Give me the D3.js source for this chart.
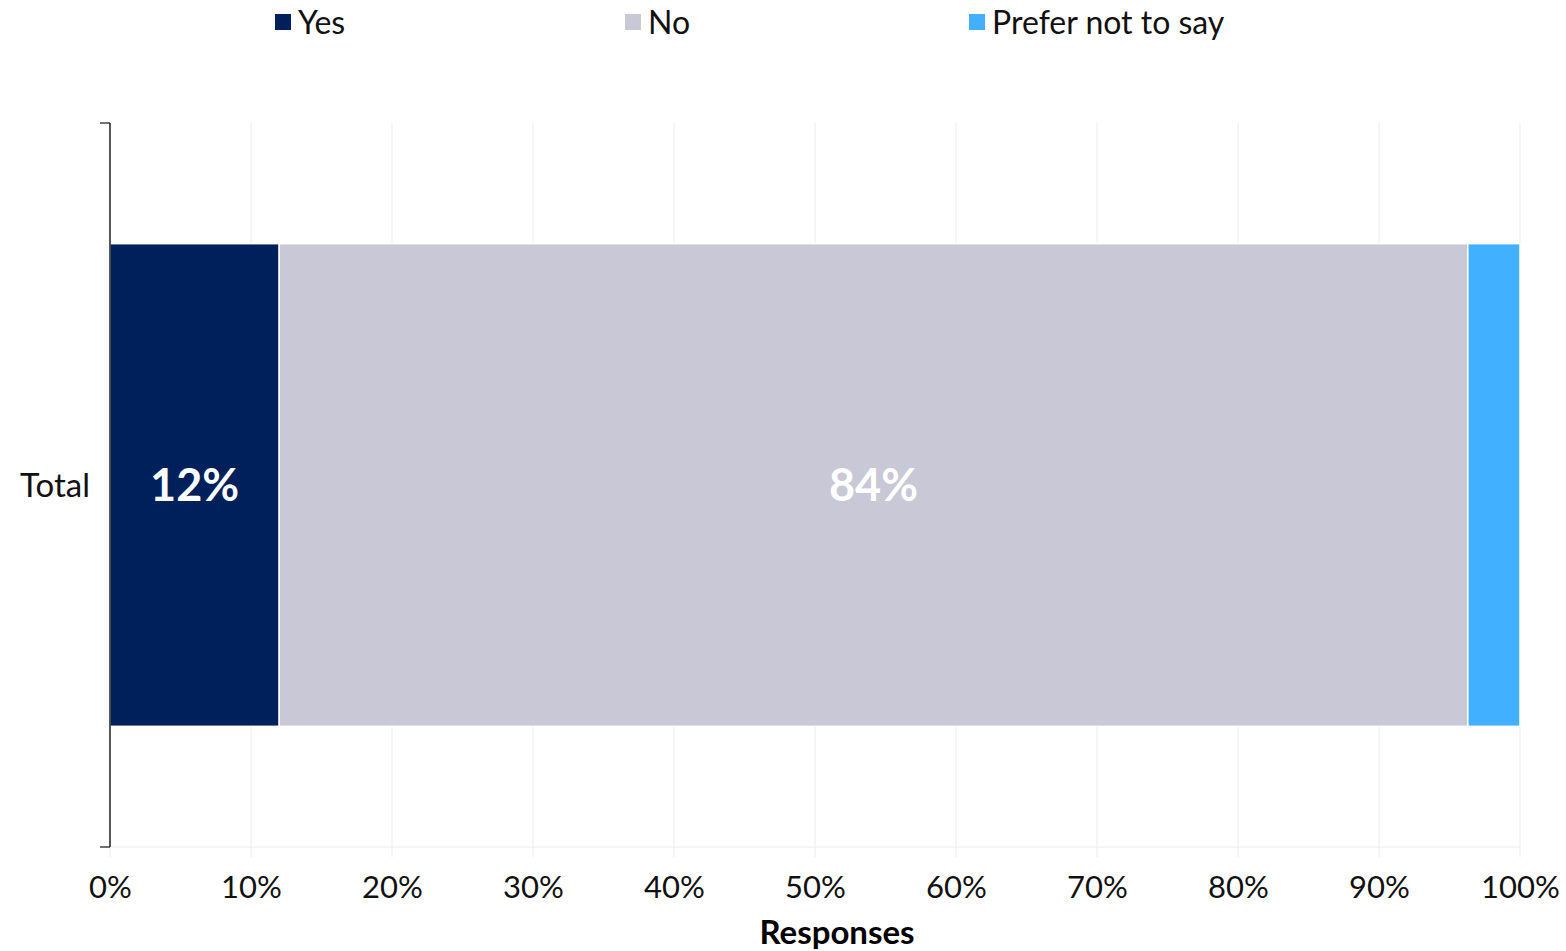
<!DOCTYPE html>
<html><head><meta charset="utf-8">
<script src="https://cdn.jsdelivr.net/npm/d3@7"></script>
<style>body{margin:0;background:#fff}svg{display:block}text{font-family:Lato,"Noto Sans",sans-serif}</style>
</head><body>
<svg id="c" width="1566" height="951"></svg>
<script>
const categories = ["Total"];
const seriesNames = ["Yes", "No", "Prefer not to say"];
const seriesColors = ["#00205B", "#C8C8D6", "#41B0FF"];
const yesValues = [12.0];
const noValues = [84.3];
const preferValues = [3.7];
const barLabels = [["12%"], ["84%"], [""]];
const xTicks = [0,10,20,30,40,50,60,70,80,90,100];

const svg = d3.select("#c");
const m = {l:110, r:1520, t:123, b:847};
const x = d3.scaleLinear().domain([0,100]).range([m.l, m.r]);
const y = d3.scaleBand().domain(categories).range([m.t, m.b]).paddingInner(0).paddingOuter(0.25);

// grid
svg.append("g").selectAll("line").data(xTicks).join("line")
  .attr("x1", d=>x(d)).attr("x2", d=>x(d)).attr("y1", m.t).attr("y2", m.b+10)
  .attr("stroke", "#ececec").attr("stroke-width", 1);
svg.append("line").attr("x1", m.l).attr("x2", m.r).attr("y1", m.b).attr("y2", m.b)
  .attr("stroke", "#ececec");

// x axis labels
const xa = svg.append("g").attr("transform", `translate(0,${m.b})`)
  .call(d3.axisBottom(x).tickValues(xTicks).tickFormat(d=>d+"%").tickSize(0).tickPadding(29));
xa.select(".domain").remove();
xa.selectAll("text").attr("font-size", 31).attr("fill", "#111").attr("dy", "0.71em");

svg.append("text").attr("x", (m.l+m.r)/2 + 22).attr("y", 944).attr("text-anchor","middle")
  .attr("font-size", 33).attr("font-weight", "bold").attr("fill", "#000").text("Responses");

// stacked data
const rows = categories.map((c,i)=>({cat:c, "Yes":yesValues[i], "No":noValues[i], "Prefer not to say":preferValues[i]}));
const stack = d3.stack().keys(seriesNames)(rows);
stack.forEach((s, si) => {
  svg.append("g").selectAll("rect").data(s).join("rect")
    .attr("x", d=>x(d[0])).attr("width", d=>x(d[1])-x(d[0]))
    .attr("y", d=>y(d.data.cat)).attr("height", y.bandwidth())
    .attr("fill", seriesColors[si]).attr("stroke", "#fff").attr("stroke-width", 1.5);
  svg.append("g").selectAll("text").data(s).join("text")
    .attr("x", d=>(x(d[0])+x(d[1]))/2).attr("y", d=>y(d.data.cat)+y.bandwidth()/2)
    .attr("dy", "0.36em").attr("text-anchor", "middle")
    .attr("font-size", 45).attr("font-weight", "bold").attr("fill", "#fff")
    .text((d,i)=>barLabels[si][i]);
});

// y axis
svg.append("line").attr("x1", m.l).attr("x2", m.l).attr("y1", m.t).attr("y2", m.b).attr("stroke", "#000").attr("stroke-width", 1.3);
[m.t, m.b].forEach(v=>svg.append("line").attr("x1", m.l-10).attr("x2", m.l).attr("y1", v).attr("y2", v).attr("stroke", "#222").attr("stroke-width",1.3));
svg.append("g").selectAll("text").data(categories).join("text")
  .attr("x", 90).attr("y", d=>y(d)+y.bandwidth()/2).attr("dy","0.36em")
  .attr("text-anchor","end").attr("font-size", 33).attr("fill","#111").text(d=>d);

// legend
const legX = [275, 625, 969];
const lg = svg.append("g").selectAll("g").data(seriesNames).join("g")
  .attr("transform", (d,i)=>`translate(${legX[i]},0)`);
lg.append("rect").attr("x",0).attr("y",14).attr("width",16).attr("height",16).attr("fill",(d,i)=>seriesColors[i]);
lg.append("text").attr("x",23).attr("y",22).attr("dy","0.36em").attr("font-size",32).attr("fill","#111").text(d=>d);
</script>
</body></html>
